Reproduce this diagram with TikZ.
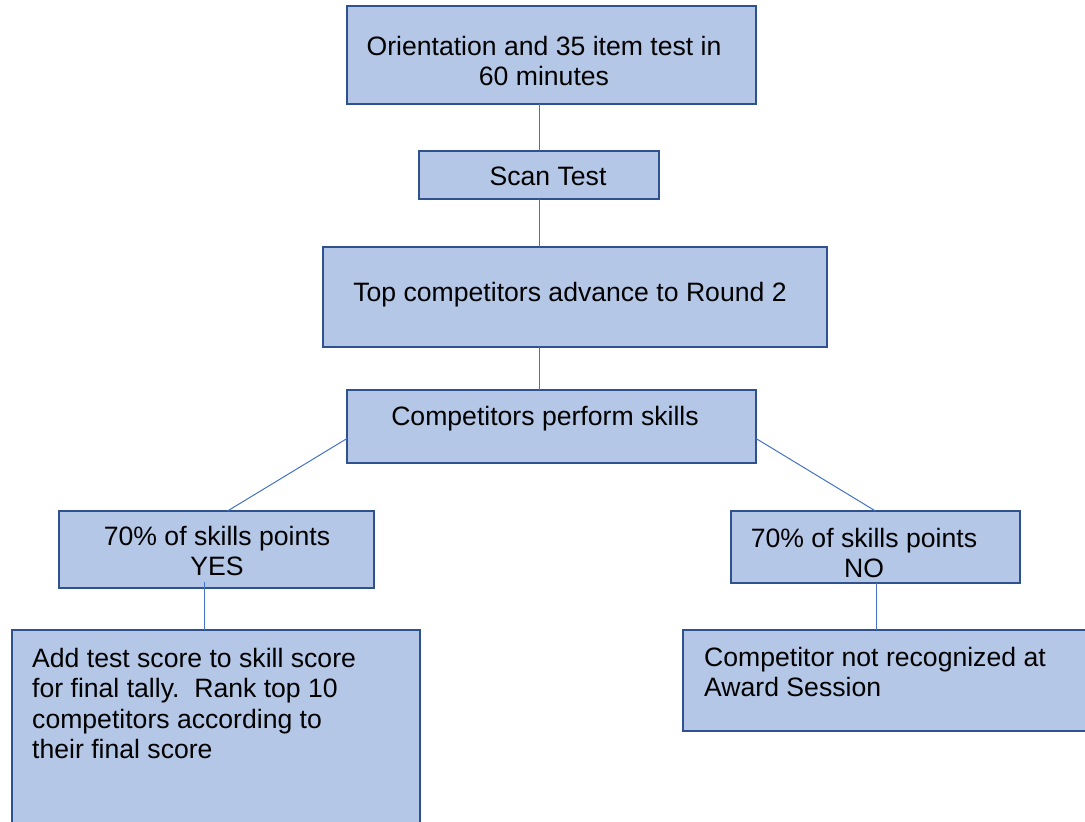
\documentclass[tikz,border=0pt]{standalone}
\usepackage{fontspec}
\setmainfont{Liberation Sans}
\usetikzlibrary{calc}
\definecolor{boxfill}{HTML}{B4C7E7}
\definecolor{boxdraw}{HTML}{2F528F}
\definecolor{connc}{HTML}{4472C4}
\tikzset{
  box/.style={draw=boxdraw, fill=boxfill, line width=2.5pt, inner sep=0pt, outer sep=0pt, anchor=north west},
  txt/.style={inner sep=0pt, font=\fontsize{26.6}{30.5}\selectfont, anchor=base},
  txtl/.style={txt, anchor=base west},
  conn/.style={draw=connc, line width=1pt},
}
\begin{document}
\begin{tikzpicture}[x=1pt,y=-1pt]
\useasboundingbox (0,0) rectangle (1085,822);
\clip (0,0) rectangle (1085,822);
% boxes
\node[box, minimum width=409pt, minimum height=98pt] (b1) at (347,6) {};
\node[box, minimum width=240pt, minimum height=48pt] (b2) at (419,151) {};
\node[box, minimum width=504pt, minimum height=100pt] (b3) at (323,247) {};
\node[box, minimum width=409pt, minimum height=73pt] (b4) at (347,390) {};
\node[box, minimum width=315pt, minimum height=77pt] (b5) at (59,511) {};
\node[box, minimum width=289pt, minimum height=72pt] (b6) at (731,511) {};
\node[box, minimum width=408pt, minimum height=215pt] (b7) at (12,630) {};
\node[box, minimum width=420pt, minimum height=101pt] (b8) at (683,630) {};
% connectors
\draw[conn] (b2.north |- b1.south) -- (b2.north);
\draw[conn] (b2.south) -- (b2.south |- b3.north);
\draw[conn] (b2.south |- b3.south) -- (b2.south |- b4.north);
\draw[conn] ($(b4.west)+(0,12)$) -- ($(b5.north)+(11,0)$);
\draw[conn] ($(b4.east)+(0,12)$) -- (b6.north);
\draw[conn] ($(b5.south)+(-12,-6)$) -- ($(b5.south |- b7.north)+(-12,0)$);
\draw[conn] ($(b6.south)+(1,0)$) -- ($(b6.south |- b8.north)+(1,0)$);
% texts
\node[txt] (t1) at (544,55) {\begin{tabular}[t]{@{}c@{}}Orientation and 35 item test in\\60 minutes\end{tabular}};
\node[txt] (t2) at (548,185) {Scan Test};
\node[txt] (t3) at (570,301) {Top competitors advance to Round 2};
\node[txt] (t4) at (545,425) {Competitors perform skills};
\node[txt] (t5) at (217,545) {\begin{tabular}[t]{@{}c@{}}70\% of skills points\\YES\end{tabular}};
\node[txt] (t6) at (864,547) {\begin{tabular}[t]{@{}c@{}}70\% of skills points\\NO\end{tabular}};
\node[txtl] (t7) at (32,667) {\begin{tabular}[t]{@{}l@{}}Add test score to skill score\\for final tally.\ \ Rank top 10\\competitors according to\\their final score\end{tabular}};
\node[txtl] (t8) at (704,666) {\begin{tabular}[t]{@{}l@{}}Competitor not recognized at\\Award Session\end{tabular}};
\end{tikzpicture}
\end{document}
